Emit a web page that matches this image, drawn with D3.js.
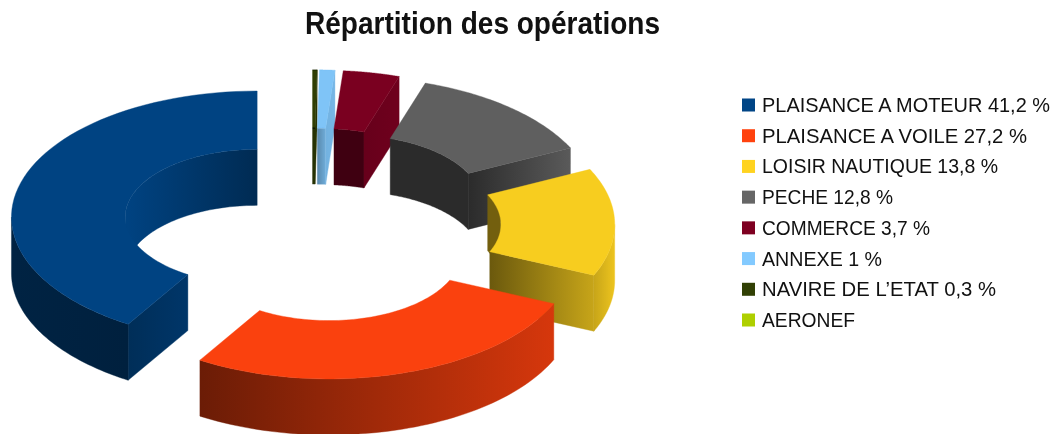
<!DOCTYPE html>
<html>
<head>
<meta charset="utf-8">
<script src="https://cdn.jsdelivr.net/npm/d3@7"></script>
<style>
  body { margin: 0; background: #fff; }
  svg { filter: blur(0.35px); }
  text { font-family: "Liberation Sans", Arial, sans-serif; fill: #111; }
</style>
</head>
<body>
<div id="chart"></div>
<script>
// Data
const labels = ["PLAISANCE A MOTEUR 41,2 %", "PLAISANCE A VOILE 27,2 %", "LOISIR NAUTIQUE 13,8 %", "PECHE 12,8 %", "COMMERCE 3,7 %", "ANNEXE 1 %", "NAVIRE DE L\u2019ETAT 0,3 %", "AERONEF"];
const values = [41.2, 27.2, 13.8, 12.8, 3.7, 1, 0.3, 0];
const colors = ["#004586", "#ff420e", "#ffd320", "#666666", "#7e0021", "#83caff", "#314004", "#aecf00"];

// Legend text widths, the source has loose kerning
const labelWidths = [288, 265, 236, 131, 168, 120, 234, 93];

// Shading of the faces, [left, right] multiplier of the slice colour
const topShade = [0.97, 0.98, 0.97, 0.93, 0.97, 0.97, 0.97, 1];
const outerShade = [[0.5, 0.46], [0.42, 0.84], [0.78, 0.93], [0.5, 0.8], [0.8, 0.8], [0.7, 0.7], [0.7, 0.7], [1, 1]];
const innerShade = [[0.97, 0.62], [0.6, 0.6], [0.45, 0.45], [0.42, 0.42], [0.5, 0.5], [0.68, 0.85], [0.75, 0.75], [1, 1]];
const capShade = [[0.66, 0.78], [0.6, 0.6], [0.42, 0.78], [0.42, 0.88], [0.82, 0.88], [0.88, 0.9], [0.8, 0.8], [1, 1]];

const width = 1058;
const height = 434;
const depth = 56;
const innerRatio = 0.537;
const explode = 0.232;

// The ring lies in a tilted plane: unit disc to screen
const x = d3.scaleLinear().domain([-1, 1]).range([66.3, 557.7]);
const y = d3.scaleLinear().domain([-1, 1]).range([99, 351]);

const svg = d3.select("#chart").append("svg").attr("width", width).attr("height", height);
const defs = svg.append("defs");

// Slices run counter clockwise from the top
const pie = d3.pie().sort(null).value(d => d);
const arcs = pie(values);

const line = d3.line();
const point = (a, r, d, z) => [
  x(-r * Math.sin(a) - explode * Math.sin(d)),
  y(-r * Math.cos(a) - explode * Math.cos(d)) + z
];
const steps = (a0, a1) => d3.range(0, 61).map(i => a0 + (a1 - a0) * i / 60);

const shade = (c, f) => {
  const rgb = d3.rgb(c);
  return d3.rgb(rgb.r * f, rgb.g * f, rgb.b * f).formatHex();
};

let gradId = 0;
const addGradient = (points, color, s) => {
  const xs = points.map(p => p[0]);
  const id = "shade" + gradId++;
  const grad = defs.append("linearGradient").attr("id", id)
    .attr("gradientUnits", "userSpaceOnUse")
    .attr("x1", d3.min(xs)).attr("x2", d3.max(xs)).attr("y1", 0).attr("y2", 0);
  grad.append("stop").attr("offset", 0).attr("stop-color", shade(color, s[0]));
  grad.append("stop").attr("offset", 1).attr("stop-color", shade(color, s[1]));
  return `url(#${id})`;
};

const drawFace = (g, points, fill) => {
  g.append("path").attr("d", line(points) + "Z").attr("fill", fill).attr("stroke", fill).attr("stroke-width", 0.4);
};

// Wall between two angles, at radius r
const wall = (a0, a1, r, d) => {
  const top = steps(a0, a1).map(a => point(a, r, d, 0));
  const bottom = steps(a0, a1).map(a => point(a, r, d, depth)).reverse();
  return top.concat(bottom);
};

const cap = (a, d) => [point(a, innerRatio, d, 0), point(a, 1, d, 0), point(a, 1, d, depth), point(a, innerRatio, d, depth)];

// Painter's order, back slices first
const paintOrder = [6, 5, 4, 3, 2, 0, 1];
const half = Math.PI / 2;

paintOrder.forEach(i => {
  const s = arcs[i];
  const a0 = s.startAngle;
  const a1 = s.endAngle;
  const mid = (a0 + a1) / 2;
  const g = svg.append("g").attr("class", "slice");

  // Inner wall shows on the far half of the ring
  [[a0, Math.min(a1, half)], [Math.max(a0, 3 * half), a1]].forEach(r => {
    if (r[1] > r[0]) {
      const pts = wall(r[0], r[1], innerRatio, mid);
      drawFace(g, pts, addGradient(pts, colors[i], innerShade[i]));
    }
  });

  // Cut faces, only when they point at the viewer
  if (Math.sin(a0) < -0.001) {
    const pts = cap(a0, mid);
    drawFace(g, pts, addGradient(pts, colors[i], capShade[i]));
  }
  if (Math.sin(a1) > 0.001) {
    const pts = cap(a1, mid);
    drawFace(g, pts, addGradient(pts, colors[i], capShade[i]));
  }

  // Outer wall shows on the near half
  const o0 = Math.max(a0, half);
  const o1 = Math.min(a1, 3 * half);
  if (o1 > o0) {
    const pts = wall(o0, o1, 1, mid);
    drawFace(g, pts, addGradient(pts, colors[i], outerShade[i]));
  }

  // Top face
  const top = steps(a0, a1).map(a => point(a, 1, mid, 0))
    .concat(steps(a0, a1).map(a => point(a, innerRatio, mid, 0)).reverse());
  drawFace(g, top, shade(colors[i], topShade[i]));
});

// Title
svg.append("text").attr("x", 305).attr("y", 33.5)
  .attr("textLength", 355).attr("lengthAdjust", "spacingAndGlyphs")
  .style("font-size", "30.5px").style("font-weight", "bold")
  .text("R\u00e9partition des op\u00e9rations");

// Legend
const row = d3.scalePoint().domain(labels).range([105, 320]);
const legend = svg.append("g").attr("id", "legend");
legend.selectAll("rect").data(labels).enter().append("rect")
  .attr("x", 742).attr("y", d => row(d) - 6.5)
  .attr("width", 13).attr("height", 13)
  .attr("fill", (d, i) => colors[i]);
legend.selectAll("text").data(labels).enter().append("text")
  .attr("x", 762).attr("y", d => row(d) + 7)
  .attr("textLength", (d, i) => labelWidths[i])
  .attr("lengthAdjust", "spacingAndGlyphs")
  .style("font-size", "20px")
  .text(d => d);
</script>
</body>
</html>
